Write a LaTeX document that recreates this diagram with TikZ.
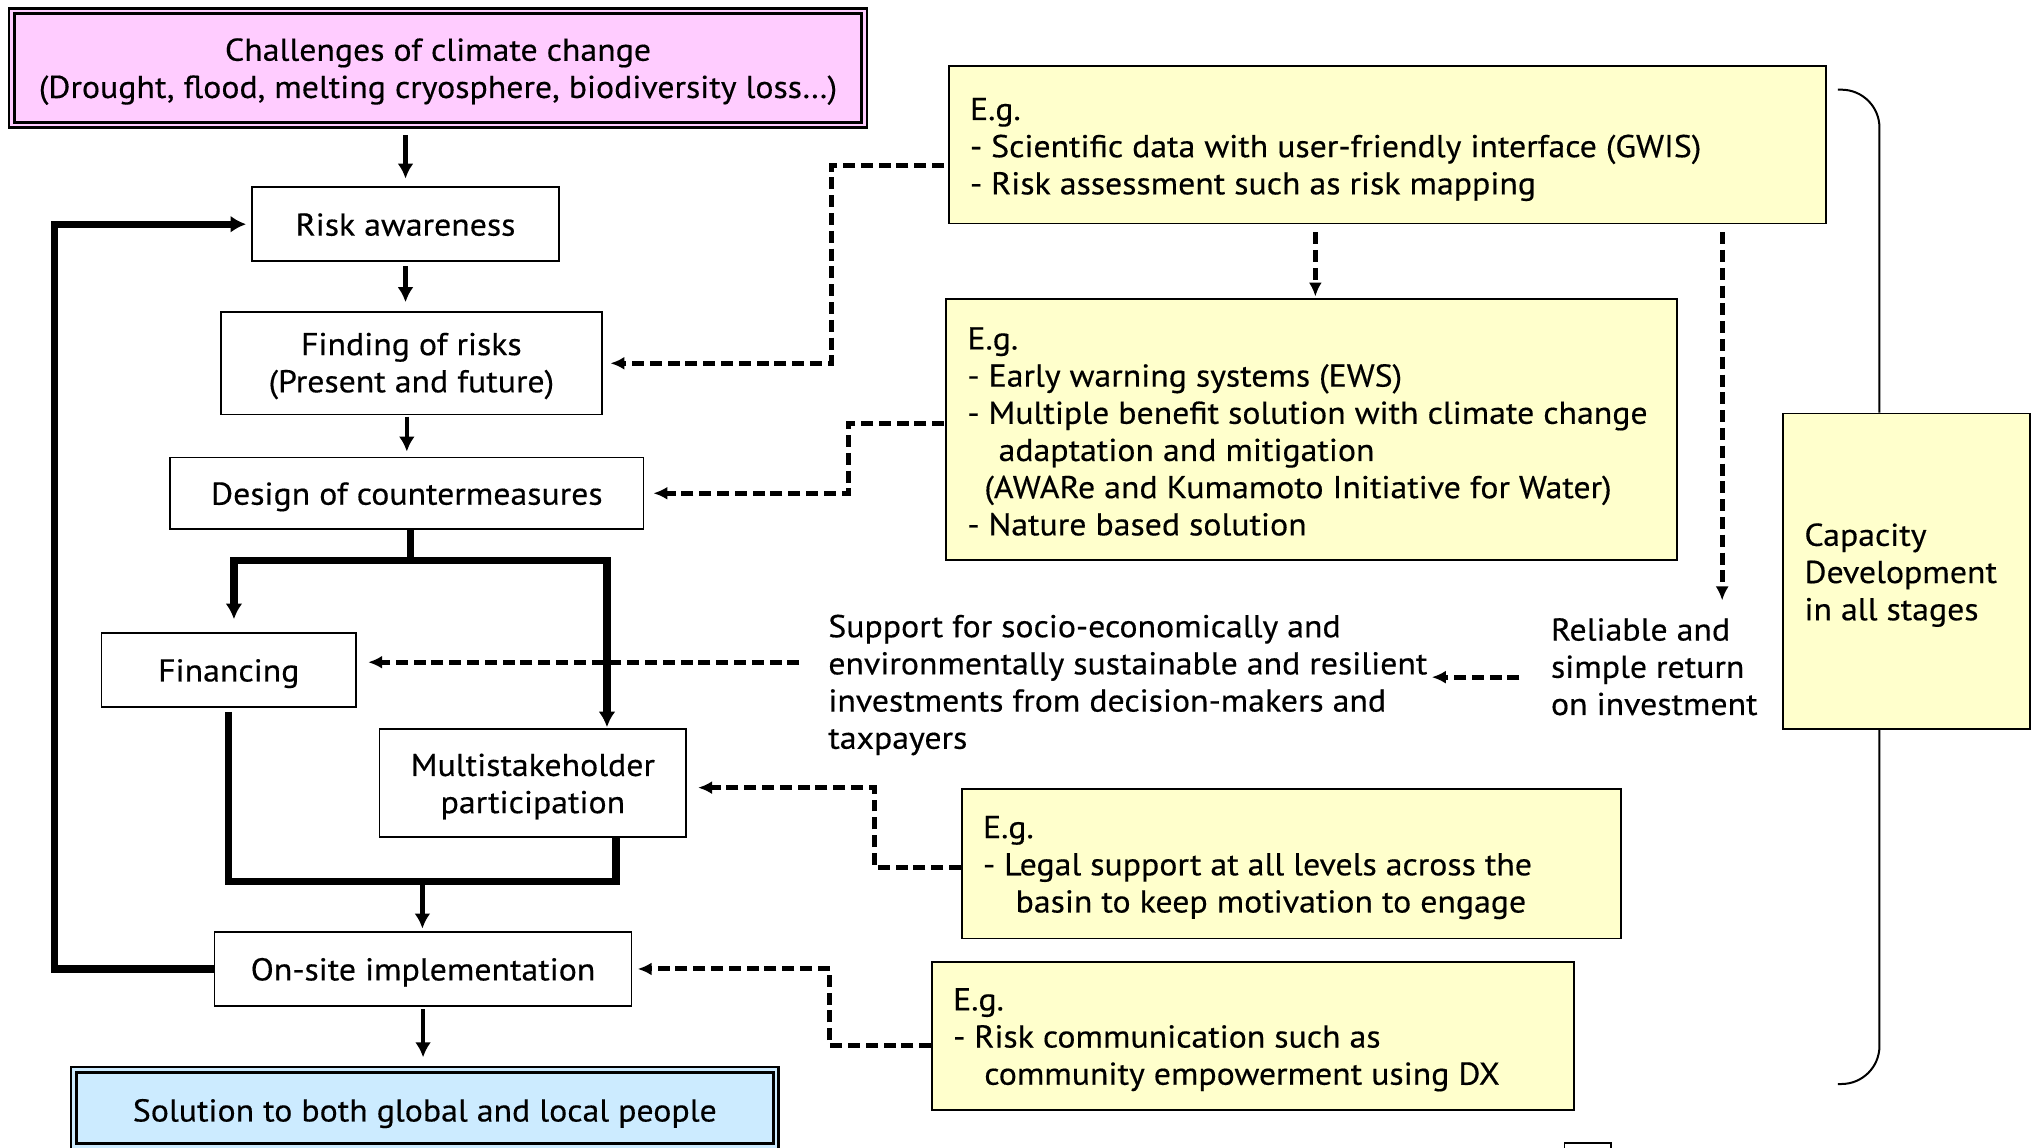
\documentclass[tikz,border=0pt]{standalone}
\usepackage{fontspec}
\setmainfont{PT Sans}[FakeStretch=1.07,FakeBold=0.4]
\usetikzlibrary{arrows.meta,calc}
\definecolor{pinkfill}{HTML}{FFCCFF}
\definecolor{bluefill}{HTML}{CCEBFF}
\definecolor{yfill}{HTML}{FFFFCC}
\newcommand\lbl[2][2pt]{\raisebox{-#1}[\height][\depth]{\begin{tabular}{@{}c@{}}#2\end{tabular}}}
\begin{document}
\begin{tikzpicture}[x=0.65pt,y=-0.65pt,
  every node/.style={font=\fontsize{15.8}{18.6}\selectfont},
  box/.style={draw, line width=0.8pt, fill=white, inner sep=0pt},
  dbox/.style={draw, line width=1.4pt, double distance=1.3pt, inner sep=0pt},
  ybox/.style={draw, line width=0.8pt, fill=yfill, inner sep=0pt},
  txt/.style={align=left, inner sep=0pt},
  arr/.style={line width=2.3pt, -{Latex[length=7.5pt,width=8pt]}},
  thk/.style={line width=3.6pt},
  thkarr/.style={line width=3.6pt, -{Latex[length=7.8pt,width=8.5pt]}},
  dsh/.style={line width=2.5pt, dash pattern=on 6pt off 2.9pt, -{Latex[length=7pt,width=6.5pt]}},
  brace/.style={line width=1pt, rounded corners=19pt}]
\useasboundingbox (0,0) rectangle (1568,883);

% left column
\node[dbox, fill=pinkfill, double=pinkfill, minimum width=426.4pt, minimum height=56.9pt] (top) at (337,52.25)
  {\lbl{Challenges of climate change\\(Drought, flood, melting cryosphere, biodiversity loss…)}};
\node[box, minimum width=153.4pt, minimum height=37.05pt] (risk) at (312,172.5) {\lbl{Risk awareness}};
\node[box, minimum width=190.45pt, minimum height=51.35pt] (find) at (316.5,279.5) {\lbl[1.5pt]{Finding of risks\\(Present and future)}};
\node[box, minimum width=236.6pt, minimum height=35.75pt] (design) at (313,379.5) {\lbl{Design of countermeasures}};
\node[box, minimum width=127.4pt, minimum height=37.05pt] (fin) at (176,515.5) {\lbl{Financing}};
\node[box, minimum width=153.4pt, minimum height=53.95pt] (multi) at (410,602.5) {\lbl{Multistakeholder\\participation}};
\node[box, minimum width=208.65pt, minimum height=37.05pt] (onsite) at (325.5,745.5) {\lbl{On-site implementation}};
\node[dbox, fill=bluefill, double=bluefill, minimum width=351.2pt, minimum height=38.35pt] (sol) at (326.85,852.5)
  {\lbl[3pt]{Solution to both global and local people}};

% yellow boxes
\node[ybox, minimum width=438.75pt, minimum height=78.65pt] (A) at (1067.5,111.5) {};
\node[txt, anchor=west] (At) at (746,115)
  {E.g.\\- Scientific data with user-friendly interface (GWIS)\\- Risk assessment such as risk mapping};
\node[ybox, minimum width=365.3pt, minimum height=130.65pt] (B) at (1009,330.5) {};
\node[txt, anchor=west] (Bt) at (744,332)
  {E.g.\\- Early warning systems (EWS)\\- Multiple benefit solution with climate change\\\hspace*{15.6pt}adaptation and mitigation\\\hspace*{8.5pt}(AWARe and Kumamoto Initiative for Water)\\- Nature based solution};
\node[ybox, minimum width=123.5pt, minimum height=157.95pt] (C) at (1467,439.5) {};
\node[txt, anchor=west] (Ct) at (1388,442.5) {Capacity\\Development\\in all stages};
\node[ybox, minimum width=329.55pt, minimum height=74.75pt] (D) at (993.5,664.5) {};
\node[txt, anchor=west] (Dt) at (756,667.5)
  {E.g.\\- Legal support at all levels across the\\\hspace*{16.3pt}basin to keep motivation to engage};
\node[ybox, minimum width=321.1pt, minimum height=74.1pt] (E) at (964,797) {};
\node[txt, anchor=west] (Et) at (733,800)
  {E.g.\\- Risk communication such as\\\hspace*{15.6pt}community empowerment using DX};
\node[box, minimum width=23.4pt, minimum height=9pt, anchor=north west] (sq) at (1203,879) {};

% free texts
\node[txt, anchor=west] (sup) at (637,527)
  {Support for socio-economically and\\environmentally sustainable and resilient\\investments from decision-makers and\\taxpayers};
\node[txt, anchor=west] (rel) at (1193,513) {Reliable and\\simple return\\on investment};

% solid main flow
\draw[arr, shorten <=4.5pt, shorten >=3.9pt] (top.south -| risk.north) -- (risk.north);
\draw[arr, shorten <=2pt, shorten >=4.5pt] (risk.south) -- (risk.south |- find.north);
\draw[arr, shorten <=0.65pt, shorten >=2.6pt] (find.south -| design.north) -- (design.north);
\coordinate (sp) at (316,431);
\coordinate (fa) at (180,431);
\coordinate (ma) at (467,431);
\draw[thk] (design.south -| sp) -- (sp);
\draw[thkarr, shorten >=6.5pt] (sp) -- (fa) -- (fa |- fin.north);
\draw[thkarr, shorten >=0.6pt] (sp) -- (ma) -- (ma |- multi.north);
\coordinate (mg) at (325,678.5);
\coordinate (mr) at (474,678.5);
\draw[thk] ([yshift=-2pt]fin.south) -- (fin.south |- mg) -- (mr) -- (mr |- multi.south);
\draw[arr, shorten >=1.3pt] (mg) -- (mg |- onsite.north);
\coordinate (lp) at (42,0);
\draw[thkarr, shorten >=2.6pt] (onsite.west) -- (onsite.west -| lp) |- (risk.west);
\draw[arr, shorten <=1.3pt, shorten >=5.5pt] (onsite.south) -- (onsite.south |- sol.north);

% dashed links
\coordinate (ja) at (640,127);
\draw[dsh, shorten <=2pt, shorten >=3.9pt] (A.west |- ja) -- (ja) |- (find.east);
\coordinate (jb) at (1012,0);
\draw[dsh, shorten <=3.9pt, shorten >=0.8pt] (A.south -| jb) -- (jb |- B.north);
\coordinate (jc) at (1325,462);
\draw[dsh, shorten <=3.9pt] (A.south -| jc) -- (jc);
\coordinate (jd) at (653,326);
\draw[dsh, shorten <=0.6pt, shorten >=4.6pt] (B.west |- jd) -- (jd) |- (design.east);
\coordinate (je) at (0,521);
\draw[dsh, shorten <=15.6pt, shorten >=2pt] (rel.west |- je) -- (sup.east |- je);
\coordinate (jf) at (0,509.5);
\draw[dsh, shorten <=14.3pt, shorten >=5.6pt] (sup.west |- jf) -- (fin.east |- jf);
\coordinate (jg) at (673,667.5);
\coordinate (jg2) at (0,606);
\draw[dsh, shorten >=5.5pt] (D.west |- jg) -- (jg) -- (jg |- jg2) -- (multi.east |- jg2);
\coordinate (jh) at (638.5,804.5);
\draw[dsh, shorten >=2.6pt] (E.west |- jh) -- (jh) |- (onsite.east);

% capacity bracket
\coordinate (bt) at (1414,69);
\coordinate (bb) at (1414,834);
\coordinate (bx) at (1446,0);
\draw[brace] (bt) -- (bt -| bx) -- (bx |- C.north);
\draw[brace] (bx |- C.south) -- (bx |- bb) -- (bb);
\end{tikzpicture}
\end{document}
